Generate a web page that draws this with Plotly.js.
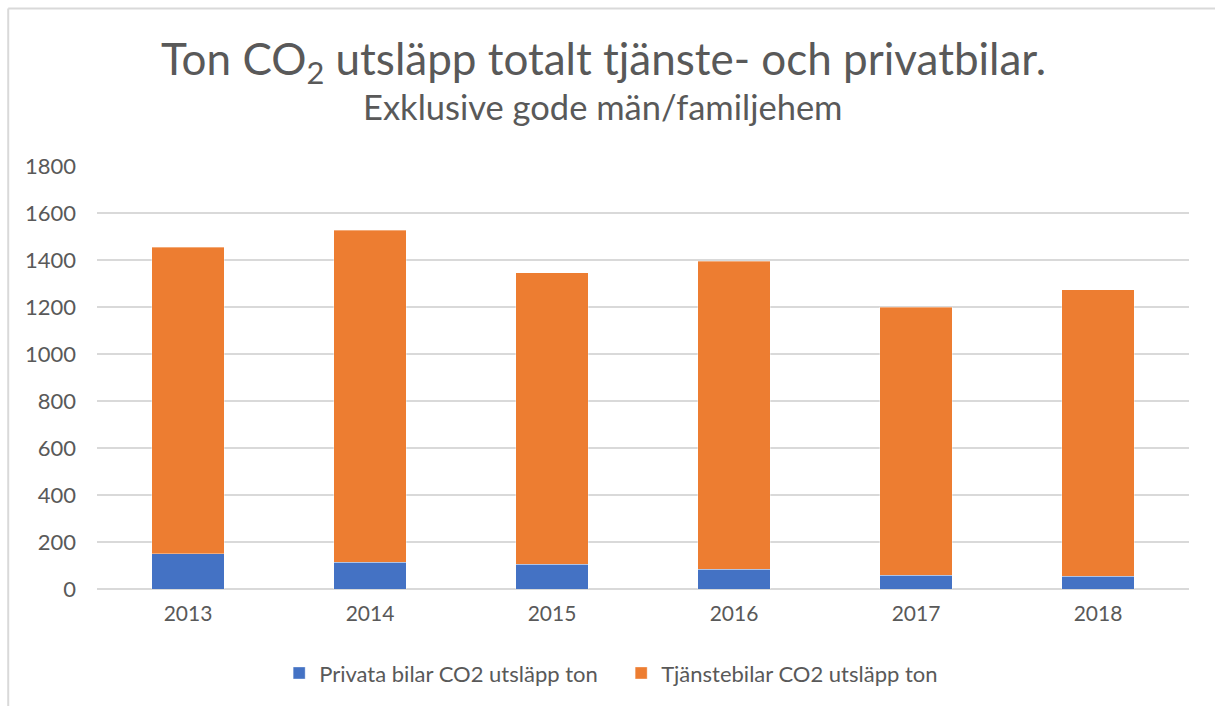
<!DOCTYPE html>
<html>
<head>
<meta charset="utf-8">
<script src="https://cdn.plot.ly/plotly-3.0.1.min.js"></script>
<style>html,body{margin:0;padding:0;background:#fff;}#chart{width:1215px;height:706px;}</style>
</head>
<body>
<div id="chart"></div>
<script>
var years = ["2013", "2014", "2015", "2016", "2017", "2018"];
var privata = [150, 113, 105, 84, 58, 55];
var tjanste = [1304, 1413, 1240, 1311, 1141, 1219];
var seriesNames = ["Privata bilar CO2 utsläpp ton", "Tjänstebilar CO2 utsläpp ton"];
var yTicks = [0, 200, 400, 600, 800, 1000, 1200, 1400, 1600, 1800];

var font = "Lato, 'Open Sans', sans-serif";
var txt = "#595959";

var traces = [
  {type: "bar", x: years, y: privata, name: seriesNames[0],
   marker: {color: "#4472C4", line: {color: "rgba(255,255,255,0.35)", width: 1}}},
  {type: "bar", x: years, y: tjanste, name: seriesNames[1],
   marker: {color: "#ED7D31", line: {color: "rgba(255,255,255,0.35)", width: 1}}}
];

var layout = {
  width: 1215, height: 706,
  margin: {l: 97, r: 26, t: 166, b: 117},
  paper_bgcolor: "#fff", plot_bgcolor: "#fff",
  barmode: "stack", bargap: 0.6,
  font: {family: font, color: txt, size: 20},
  xaxis: {type: "category", showgrid: false, zeroline: false, showline: false,
          ticks: "", tickfont: {size: 21, color: txt}, ticklabelstandoff: 10},
  yaxis: {range: [0, 1800], tickvals: yTicks, ticktext: yTicks.map(String),
          showgrid: true, gridcolor: "#D9D9D9", gridwidth: 1.5, zeroline: true,
          zerolinecolor: "#D9D9D9", zerolinewidth: 1.5, showline: false, ticks: "",
          tickfont: {size: 22, color: txt}, ticklabelstandoff: 20},
  showlegend: true,
  legend: {orientation: "h", x: 0.48, xanchor: "center", y: -0.199, yanchor: "middle",
           font: {size: 22, color: txt}, traceorder: "normal", itemwidth: 30,
           entrywidth: 297, entrywidthmode: "pixels"},
  annotations: [
    {xref: "paper", yref: "paper", x: 0.464, y: 1.246, xanchor: "center", yanchor: "middle",
     showarrow: false, text: "Ton CO<sub>2</sub> utsläpp totalt tjänste- och privatbilar.",
     font: {size: 44, color: txt, family: font}},
    {xref: "paper", yref: "paper", x: 0.463, y: 1.14, xanchor: "center", yanchor: "middle",
     showarrow: false, text: "Exklusive gode män/familjehem",
     font: {size: 34.5, color: txt, family: font}}
  ],
  shapes: [
    {type: "line", xref: "paper", yref: "paper", x0: -0.0813, x1: 1.1, y0: 1.3723, y1: 1.3723,
     line: {color: "#D9D9D9", width: 2}},
    {type: "line", xref: "paper", yref: "paper", x0: -0.0813, x1: -0.0813, y0: 1.3723, y1: -0.3,
     line: {color: "#D9D9D9", width: 2}}
  ]
};

Plotly.newPlot("chart", traces, layout, {displayModeBar: false, staticPlot: true});
</script>
</body>
</html>
